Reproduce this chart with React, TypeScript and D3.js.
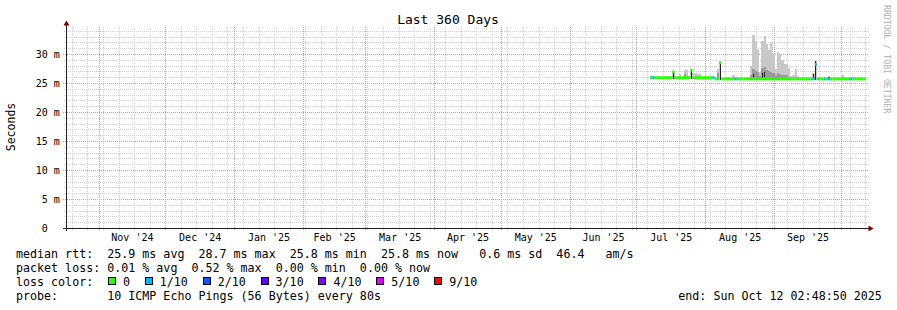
import React from 'react';
import * as d3 from 'd3';

// ---------- data ----------
const END_TIME = '2025-10-12T02:48:50Z';
const SPAN_DAYS = 360;
const FIRST_DAY = '2025-07-07';

// daily median rtt (ms), one value per day starting FIRST_DAY
const medianMs: number[] = [
  26.0, 26.0, 26.0, 26.0, 26.0, 26.0, 26.0, 26.0, 26.0, 26.0,
  27.0, 26.0, 26.0, 26.0, 26.0, 26.0, 26.0, 26.0, 27.3, 26.0,
  26.0, 26.0, 26.0, 26.0, 26.0, 26.0, 26.0, 26.0, 26.0, 25.8,
  25.8, 28.6, 25.8, 25.8, 25.8, 25.8, 25.8, 25.8, 25.8, 25.8,
  25.8, 25.8, 25.8, 25.8, 25.8, 25.8, 25.8, 25.8, 25.8, 25.8,
  25.8, 25.8, 25.8, 25.8, 25.8, 25.8, 25.8, 25.8, 25.8, 25.8,
  25.8, 25.8, 25.8, 25.8, 25.8, 25.8, 25.8, 25.8, 25.8, 25.8,
  25.8, 25.8, 25.8, 25.8, 28.3, 25.8, 25.8, 25.8, 25.8, 25.8,
  25.8, 25.8, 25.8, 25.8, 25.8, 25.8, 25.8, 25.8, 25.8, 25.8,
  25.8, 25.8, 25.8, 25.8, 25.8, 25.8, 25.8,
];

// lost pings out of 10, one value per day
const lossTenths: number[] = [
  0, 1, 0, 0, 0, 0, 0, 0, 0, 0,
  0, 0, 0, 0, 0, 0, 0, 0, 0, 0,
  0, 0, 0, 0, 0, 0, 0, 0, 1, 0,
  0, 0, 0, 0, 0, 0, 0, 0, 1, 0,
  0, 0, 0, 0, 0, 0, 0, 0, 0, 0,
  0, 0, 0, 0, 0, 0, 0, 0, 0, 0,
  0, 0, 0, 0, 0, 0, 0, 0, 0, 0,
  0, 0, 0, 1, 1, 0, 0, 0, 1, 0,
  1, 0, 0, 0, 0, 0, 0, 0, 0, 0,
  1, 0, 0, 0, 0, 0, 0,
];

// smoke (ping spread) on days where it is visible
const smokeDates: string[] = [
  '2025-07-07', '2025-07-17', '2025-07-20', '2025-07-22', '2025-07-23', '2025-07-25',
  '2025-07-26', '2025-07-27', '2025-07-28', '2025-07-29', '2025-08-06', '2025-08-07',
  '2025-08-13', '2025-08-21', '2025-08-22', '2025-08-23', '2025-08-24', '2025-08-25',
  '2025-08-26', '2025-08-27', '2025-08-28', '2025-08-29', '2025-08-30', '2025-08-31',
  '2025-09-01', '2025-09-02', '2025-09-03', '2025-09-04', '2025-09-05', '2025-09-06',
  '2025-09-07', '2025-09-08', '2025-09-09', '2025-09-10', '2025-09-11', '2025-09-18',
  '2025-09-19', '2025-09-25', '2025-10-01',
];
const smokeMax: number[] = [
  26.3, 27.2, 26.6, 27.4, 27.3, 27.5,
  26.8, 26.8, 26.7, 26.7, 27.5, 28.6,
  26.5, 28.0, 33.4, 32.4, 30.8, 27.0,
  32.4, 33.2, 31.8, 30.8, 31.9, 30.0,
  27.5, 30.5, 30.1, 29.0, 28.4, 28.4,
  27.6, 26.3, 26.4, 27.5, 26.3, 26.8,
  28.9, 26.3, 26.4,
];
const smokeMid: number[] = [
  0, 0, 0, 26.6, 0, 0,
  0, 0, 0, 0, 26.8, 0,
  0, 26.5, 27.5, 27.2, 27.0, 26.3,
  27.6, 27.8, 27.4, 27.2, 27.0, 26.8,
  26.4, 26.8, 26.6, 26.5, 26.4, 26.4,
  0, 0, 0, 0, 0, 0,
  0, 0, 0,
];
const smokeDark: number[] = [
  26.3, 27.2, 0, 0, 0, 27.5,
  0, 0, 0, 0, 0, 28.3,
  0, 0, 26.6, 0, 0, 0,
  26.8, 27.0, 0, 0, 0, 0,
  0, 0, 0, 0, 0, 0,
  0, 0, 0, 0, 0, 26.6,
  28.8, 26.2, 0,
];

const yTickValues: number[] = [0, 5, 10, 15, 20, 25, 30];
const yTickLabels: string[] = [' 0  ', ' 5 m', '10 m', '15 m', '20 m', '25 m', '30 m'];

const lossLabels: string[] = ['0', '1/10', '2/10', '3/10', '4/10', '5/10', '9/10'];
const lossColors: string[] = ['#26ff00', '#00b8ff', '#0059ff', '#5e00ff', '#7e00ff', '#dd00ff', '#ff0000'];

const legendRtt = 'median rtt:  25.9 ms avg  28.7 ms max  25.8 ms min  25.8 ms now   0.6 ms sd  46.4   am/s';
const legendLoss = 'packet loss: 0.01 % avg  0.52 % max  0.00 % min  0.00 % now';
const legendProbe = 'probe:       10 ICMP Echo Pings (56 Bytes) every 80s';
const legendEnd = 'end: Sun Oct 12 02:48:50 2025';
const titleText = 'Last 360 Days';

// ---------- layout ----------
const W = 897;
const H = 310;
const FONT = '"DejaVu Sans Mono", monospace';
const X0 = 66;
const X1 = 866;
const Y_TOP = 26.5;
const DAY = 864e5;

const nb = (s: string) => s.replace(/ /g, '\u00A0');

export default function App() {
  const end = new Date(END_TIME);
  const start = new Date(end.getTime() - SPAN_DAYS * DAY);
  const x = d3.scaleUtc().domain([start, end]).range([X0, X1]);
  const y = d3.scaleLinear().domain([0, 30]).range([228.5, 54.5]);
  const yMax = y.invert(Y_TOP);
  const crisp = (v: number) => Math.floor(v) + 0.5;

  const parse = d3.utcParse('%Y-%m-%d');
  const first = parse(FIRST_DAY) as Date;
  const dayStart = (i: number) => d3.utcDay.offset(first, i);

  const months = d3.utcMonth.range(start, end);
  const monthCols = new Set(months.map((m) => Math.floor(x(m))));
  const weeks = d3.utcSunday.range(start, end).filter((w) => !monthCols.has(Math.floor(x(w))));
  const labelMonths = d3.utcMonth.range(d3.utcMonth.floor(start), end).map((m) => {
    const n = d3.utcMonth.offset(m, 1);
    return { m, cx: (x(m) + x(n)) / 2 };
  }).filter((d) => d.cx >= X0 && d.cx <= X1);
  const fmtMonth = d3.utcFormat("%b '%y");

  const minorY = d3.range(1, Math.floor(yMax) + 1).filter((v) => v % 5 !== 0);
  const majorY = d3.range(5, Math.floor(yMax) + 1, 5);

  const colorIdx = (l: number) => (l >= 6 ? 6 : l);

  // legend swatch layout
  const charW = 7.02;
  let lx = 108;
  const swatches = lossLabels.map((lab, i) => {
    const s = { x: lx, tx: lx + 15, lab, color: lossColors[i] };
    lx = lx + 15 + lab.length * charW + 14.8;
    return s;
  });

  return (
    <svg width={W} height={H} style={{ display: 'block', background: '#fff' }} fontFamily={FONT}>
      <style>{'body{margin:0}'}</style>
      <rect x={0} y={0} width={W} height={H} fill="#ffffff" />

      {/* minor grid */}
      <g stroke="#d0d0d0" strokeDasharray="1,1" shapeRendering="crispEdges">
        {minorY.map((v) => (
          <line key={'hy' + v} x1={64} x2={869} y1={crisp(y(v))} y2={crisp(y(v))} />
        ))}
        {weeks.map((w) => (
          <line key={'vw' + w.getTime()} x1={crisp(x(w))} x2={crisp(x(w))} y1={Y_TOP} y2={230} />
        ))}
      </g>
      {/* major grid */}
      <g stroke="#ee9090" strokeDasharray="1,1" shapeRendering="crispEdges">
        {majorY.map((v) => (
          <line key={'my' + v} x1={63} x2={869} y1={crisp(y(v))} y2={crisp(y(v))} />
        ))}
        {months.map((m) => (
          <line key={'mm' + m.getTime()} x1={crisp(x(m))} x2={crisp(x(m))} y1={Y_TOP} y2={231} />
        ))}
      </g>

      {/* smoke */}
      <g shapeRendering="crispEdges">
        {smokeDates.map((ds, k) => {
          const d0 = parse(ds) as Date;
          const d1 = d3.utcDay.offset(d0, 1);
          const idx = Math.round((d0.getTime() - first.getTime()) / DAY);
          const neighbours = [medianMs[idx - 1], medianMs[idx], medianMs[idx + 1]].filter((v) => v !== undefined);
          const base = Math.min(...neighbours) - 0.2;
          const xa = x(d0);
          const w = x(d1) - xa;
          const parts = [] as any[];
          parts.push(<rect key="a" x={xa} width={w} y={y(smokeMax[k])} height={y(base) - y(smokeMax[k])} fill="#c8c8c8" />);
          if (smokeMid[k] > 0)
            parts.push(<rect key="b" x={xa} width={w} y={y(smokeMid[k])} height={y(base) - y(smokeMid[k])} fill="#9a9a9a" />);
          if (smokeDark[k] > 0)
            parts.push(<rect key="c" x={xa + w * 0.2} width={Math.max(1.4, w * 0.6)} y={y(smokeDark[k])} height={y(base) - y(smokeDark[k])} fill="#222222" />);
          return <g key={'s' + ds}>{parts}</g>;
        })}
      </g>

      {/* median line coloured by loss */}
      <g>
        {medianMs.map((m, i) => {
          const d0 = dayStart(i);
          const d1 = dayStart(i + 1);
          const xa = x(d0);
          const xb = Math.min(x(d1), X1);
          return (
            <rect key={'m' + i} x={xa} width={xb - xa} y={y(m) - 1.5} height={3}
              fill={lossColors[colorIdx(lossTenths[i])]} />
          );
        })}
      </g>

      {/* axes */}
      <g stroke="#212121" shapeRendering="crispEdges">
        <line x1={63} x2={870} y1={228.5} y2={228.5} />
        <line x1={66.5} x2={66.5} y1={25} y2={231} />
      </g>
      <path d="M63.5,25.5 L69.5,25.5 L66.5,20.5 Z" fill="#800000" />
      <path d="M868.5,225.5 L868.5,231.5 L873.5,228.5 Z" fill="#800000" />

      {/* y tick labels */}
      <g fontSize={10} fill="#000">
        {yTickValues.map((v, i) => (
          <text key={'yl' + v} x={35.7} y={y(v) + 3.6}>{nb(yTickLabels[i])}</text>
        ))}
      </g>
      {/* x month labels */}
      <g fontSize={10} fill="#000" textAnchor="middle">
        {labelMonths.map((d) => (
          <text key={'xl' + d.m.getTime()} x={d.cx} y={241}>{nb(fmtMonth(d.m))}</text>
        ))}
      </g>

      {/* title */}
      <text x={448} y={24} fontSize={13} textAnchor="middle" fill="#000">{nb(titleText)}</text>
      {/* y axis title */}
      <text transform="translate(15,127) rotate(-90)" fontSize={11.5} textAnchor="middle" fill="#000">Seconds</text>
      {/* watermark */}
      <text transform="translate(884,5) rotate(90)" fontSize={8.2} fill="#b0b0b0">{nb('RRDTOOL / TOBI OETIKER')}</text>

      {/* legend */}
      <g fontSize={11.67} fill="#000">
        <text x={16} y={258}>{nb(legendRtt)}</text>
        <text x={16} y={272}>{nb(legendLoss)}</text>
        <text x={16} y={286}>{nb('loss color:')}</text>
        {swatches.map((s) => (
          <g key={'sw' + s.lab}>
            <rect x={s.x + 0.5} y={277.5} width={7} height={7} fill={s.color} stroke="#000" strokeWidth={1} shapeRendering="crispEdges" />
            <text x={s.tx} y={286}>{s.lab}</text>
          </g>
        ))}
        <text x={16} y={300}>{nb(legendProbe)}</text>
        <text x={678.3} y={300}>{nb(legendEnd)}</text>
      </g>
    </svg>
  );
}
